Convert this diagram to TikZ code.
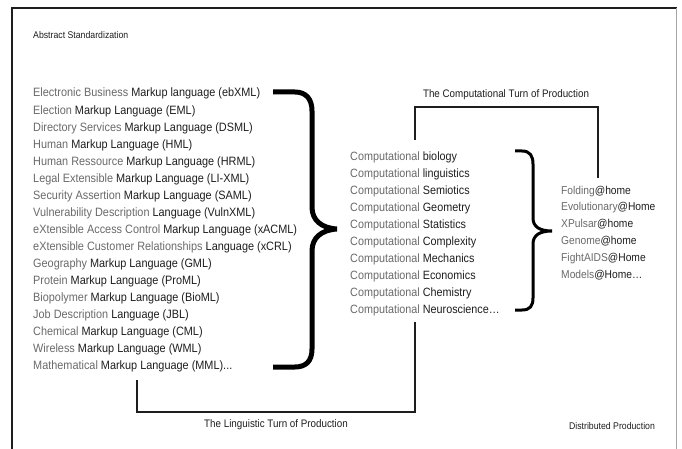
\documentclass[tikz,border=0pt]{standalone}
\usepackage{fontspec}
\setmainfont{Liberation Sans}
\newfontfamily\cond[FakeStretch=0.9]{Liberation Sans}
\definecolor{lt}{HTML}{6A6A6A}
\definecolor{dk}{HTML}{1E1E1E}
\newcommand{\lgt}[1]{\textcolor{lt}{#1}}
\begin{document}
\begin{tikzpicture}[x=1pt,y=-1pt,
  listA/.style={anchor=base west,inner sep=0pt,text=dk,font=\cond\fontsize{12.1}{14}\selectfont},
  listB/.style={anchor=base west,inner sep=0pt,text=dk,font=\cond\fontsize{12}{14}\selectfont},
  listC/.style={anchor=base west,inner sep=0pt,text=dk,font=\cond\fontsize{11.4}{13}\selectfont},
  lab/.style={inner sep=0pt,text=dk,font=\cond\fontsize{10.9}{12}\selectfont},
  small/.style={inner sep=0pt,text=dk,font=\cond\fontsize{9.7}{11}\selectfont},
  conn/.style={draw=dk,line width=1.3pt},
  bigbrace/.style={draw=black,line width=5pt},
  midbrace/.style={draw=black,line width=3pt}]
\useasboundingbox (0,0) rectangle (682,449);
\fill[white] (0,0) rectangle (682,449);
% frame
\draw[draw=dk,line width=1.5pt] (12,449) -- (12,8) -- (677,8);
\draw[draw=black!35,line width=1pt] (676,8) -- (676,449);

\node[small,anchor=base west] (abs) at (33,39) {Abstract Standardization};

% left list
\def\ya{97}
\node[listA] (a1) at (33,\ya+0*17.06) {\lgt{Electronic Business }Markup language (ebXML)};
\node[listA] (a2) at (33,\ya+1*17.06) {\lgt{Election }Markup Language (EML)};
\node[listA] (a3) at (33,\ya+2*17.06) {\lgt{Directory Services }Markup Language (DSML)};
\node[listA] (a4) at (33,\ya+3*17.06) {\lgt{Human }Markup Language (HML)};
\node[listA] (a5) at (33,\ya+4*17.06) {\lgt{Human Ressource }Markup Language (HRML)};
\node[listA] (a6) at (33,\ya+5*17.06) {\lgt{Legal Extensible }Markup Language (LI-XML)};
\node[listA] (a7) at (33,\ya+6*17.06) {\lgt{Security Assertion }Markup Language (SAML)};
\node[listA] (a8) at (33,\ya+7*17.06) {\lgt{Vulnerability Description }Language (VulnXML)};
\node[listA] (a9) at (33,\ya+8*17.06) {\lgt{eXtensible Access Control }Markup Language (xACML)};
\node[listA] (a10) at (33,\ya+9*17.06) {\lgt{eXtensible Customer Relationships }Language (xCRL)};
\node[listA] (a11) at (33,\ya+10*17.06) {\lgt{Geography }Markup Language (GML)};
\node[listA] (a12) at (33,\ya+11*17.06) {\lgt{Protein }Markup Language (ProML)};
\node[listA] (a13) at (33,\ya+12*17.06) {\lgt{Biopolymer }Markup Language (BioML)};
\node[listA] (a14) at (33,\ya+13*17.06) {\lgt{Job Description }Language (JBL)};
\node[listA] (a15) at (33,\ya+14*17.06) {\lgt{Chemical }Markup Language (CML)};
\node[listA] (a16) at (33,\ya+15*17.06) {\lgt{Wireless }Markup Language (WML)};
\node[listA] (a17) at (33,\ya+16*17.06) {\lgt{Mathematical }Markup Language (MML)...};

% big brace
\draw[bigbrace] (273,92) -- (295,92) .. controls (306,92) and (312,99) .. (312,111)
  -- (312,207) .. controls (312,220) and (321,228) .. (337,229)
  .. controls (321,230) and (312,238) .. (312,251)
  -- (312,349) .. controls (312,361) and (306,367) .. (295,367) -- (273,367);

% middle list
\def\yb{161}
\node[listB] (b1) at (350,\yb+0*16.9) {\lgt{Computational }biology};
\node[listB] (b2) at (350,\yb+1*16.9) {\lgt{Computational }linguistics};
\node[listB] (b3) at (350,\yb+2*16.9) {\lgt{Computational }Semiotics};
\node[listB] (b4) at (350,\yb+3*16.9) {\lgt{Computational }Geometry};
\node[listB] (b5) at (350,\yb+4*16.9) {\lgt{Computational }Statistics};
\node[listB] (b6) at (350,\yb+5*16.9) {\lgt{Computational }Complexity};
\node[listB] (b7) at (350,\yb+6*16.9) {\lgt{Computational }Mechanics};
\node[listB] (b8) at (350,\yb+7*16.9) {\lgt{Computational }Economics};
\node[listB] (b9) at (350,\yb+8*16.9) {\lgt{Computational }Chemistry};
\node[listB] (b10) at (350,\yb+9*16.9) {\lgt{Computational }Neuroscience\ldots};

% middle brace
\draw[midbrace] (515,151) -- (522,151) .. controls (530,151) and (533,156) .. (533,164)
  -- (533,218) .. controls (533,227) and (540,231) .. (552,231)
  .. controls (540,231) and (533,235) .. (533,244)
  -- (533,298) .. controls (533,306) and (530,310) .. (522,310) -- (515,310);

% right list
\def\yc{194}
\node[listC] (c1) at (561,\yc+0*16.8) {\lgt{Folding}@home};
\node[listC] (c2) at (561,\yc+1*16.8) {\lgt{Evolutionary}@Home};
\node[listC] (c3) at (561,\yc+2*16.8) {\lgt{XPulsar}@home};
\node[listC] (c4) at (561,\yc+3*16.8) {\lgt{Genome}@home};
\node[listC] (c5) at (561,\yc+4*16.8) {\lgt{FightAIDS}@Home};
\node[listC] (c6) at (561,\yc+5*16.8) {\lgt{Models}@Home\ldots};

% computational turn connector
\coordinate (ct1) at (415,140);
\coordinate (ct2) at (415,107);
\coordinate (ct3) at (598,107);
\coordinate (ct4) at (598,178);
\draw[conn] (ct1) -- (ct2) -- (ct3) -- (ct4);
\node[lab] (ctl) at (506,95) {The Computational Turn of Production};

% linguistic turn connector
\coordinate (lt1) at (137,380);
\coordinate (lt2) at (137,412);
\coordinate (lt3) at (415,412);
\coordinate (lt4) at (415,322);
\draw[conn] (lt1) -- (lt2) -- (lt3) -- (lt4);
\node[lab] (ltl) at (276,425) {The Linguistic Turn of Production};

\node[small] (dist) at (612,426) {Distributed Production};
\end{tikzpicture}
\end{document}
